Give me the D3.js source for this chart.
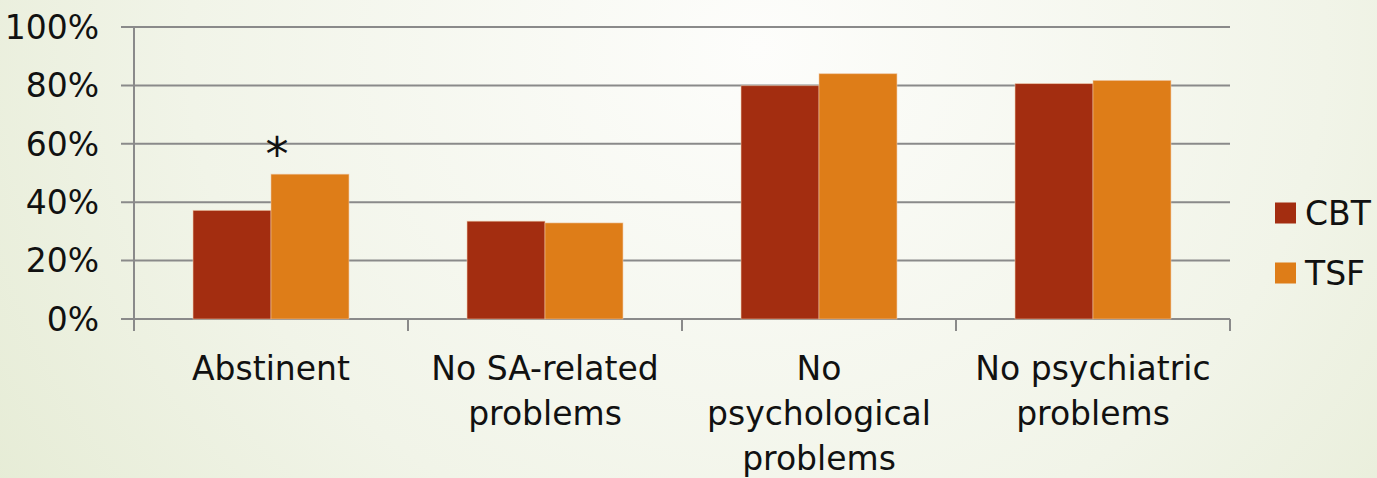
<!DOCTYPE html>
<html><head><meta charset="utf-8">
<script src="https://cdn.jsdelivr.net/npm/d3@7"></script>
<style>html,body{margin:0;padding:0;overflow:hidden}svg{display:block}</style>
</head><body>
<svg id="c" width="1377" height="478"></svg>
<script>
const categories = [["Abstinent"], ["No SA-related", "problems"], ["No", "psychological", "problems"], ["No psychiatric", "problems"]];
const seriesNames = ["CBT", "TSF"];
const cbtValues = [37.2, 33.5, 79.9, 80.6];
const tsfValues = [49.6, 32.9, 84.0, 81.7];
const yTicks = [0, 20, 40, 60, 80, 100];
const colors = ["#a32d10", "#de7d18"];
const FONT = "'DejaVu Sans', sans-serif";

const svg = d3.select("#c");
const defs = svg.append("defs");
const g0 = defs.append("radialGradient").attr("id", "bg").attr("cx", "0.55").attr("cy", "0.1").attr("r", "0.75")
  .attr("gradientTransform", "translate(0.55,0.1) scale(1,2.6) translate(-0.55,-0.1)");
g0.append("stop").attr("offset", "0").attr("stop-color", "#fdfdfb");
g0.append("stop").attr("offset", "0.55").attr("stop-color", "#f1f4e8");
g0.append("stop").attr("offset", "1").attr("stop-color", "#e2e9cf");
svg.append("rect").attr("width", 1377).attr("height", 478).attr("fill", "url(#bg)");

const x0 = d3.scaleBand().domain(d3.range(categories.length)).range([134, 1230]).paddingInner(0).paddingOuter(0);
const x1 = d3.scaleBand().domain(seriesNames).range([0, x0.bandwidth()]).paddingInner(0).paddingOuter(0.757);
const y = d3.scaleLinear().domain([0, 100]).range([319, 27]);

// gridlines
svg.append("g").selectAll("line").data(yTicks).join("line")
  .attr("x1", 121).attr("x2", 1230).attr("y1", d => y(d)).attr("y2", d => y(d))
  .attr("stroke", "#8a8a8a").attr("stroke-width", 2);
// y axis line
svg.append("line").attr("x1", 134).attr("x2", 134).attr("y1", 27).attr("y2", 319).attr("stroke", "#8a8a8a").attr("stroke-width", 2);
// x category ticks
svg.append("g").selectAll("line").data(d3.range(categories.length + 1)).join("line")
  .attr("x1", i => 134 + i * x0.bandwidth()).attr("x2", i => 134 + i * x0.bandwidth())
  .attr("y1", 319).attr("y2", 331).attr("stroke", "#8a8a8a").attr("stroke-width", 2);

// y labels
svg.append("g").selectAll("text").data(yTicks).join("text")
  .attr("x", 99).attr("y", d => y(d)).attr("dy", "0.36em").attr("text-anchor", "end")
  .attr("font-family", FONT).attr("font-size", 33).attr("fill", "#111")
  .text(d => d + "%");

// bars
const data = categories.map((c, i) => ({i, vals: [cbtValues[i], tsfValues[i]]}));
const grp = svg.append("g").selectAll("g").data(data).join("g").attr("transform", d => `translate(${x0(d.i)},0)`);
grp.selectAll("rect").data(d => d.vals.map((v, k) => ({v, k}))).join("rect")
  .attr("x", d => x1(seriesNames[d.k])).attr("width", x1.bandwidth())
  .attr("y", d => y(d.v)).attr("height", d => y(0) - y(d.v))
  .attr("fill", d => colors[d.k]).attr("stroke", "#f0c9a8").attr("stroke-width", 0.8).attr("stroke-opacity", 0.7);

// asterisk
svg.append("text").attr("x", x0(0) + x1("TSF") + 6).attr("y", y(tsfValues[0]) - 4).attr("text-anchor", "middle")
  .attr("font-family", FONT).attr("font-size", 46).attr("fill", "#111").text("*");

// category labels
const lab = svg.append("g").selectAll("text").data(categories).join("text")
  .attr("x", (d, i) => x0(i) + x0.bandwidth() / 2).attr("y", 380)
  .attr("text-anchor", "middle").attr("font-family", FONT).attr("font-size", 33).attr("fill", "#111");
lab.selectAll("tspan").data(d => d).join("tspan")
  .attr("x", function() { return this.parentNode.getAttribute("x"); })
  .attr("dy", (d, k) => k === 0 ? 0 : 45).text(d => d);

// legend
const leg = svg.append("g").selectAll("g").data(seriesNames).join("g")
  .attr("transform", (d, i) => `translate(1275,${213 + i * 60})`);
leg.append("rect").attr("x", 0).attr("y", -10.5).attr("width", 21).attr("height", 21).attr("fill", (d, i) => colors[i]);
leg.append("text").attr("x", 30).attr("y", 0).attr("dy", "0.36em")
  .attr("font-family", FONT).attr("font-size", 33).attr("fill", "#111").text(d => d);
</script>
</body></html>
